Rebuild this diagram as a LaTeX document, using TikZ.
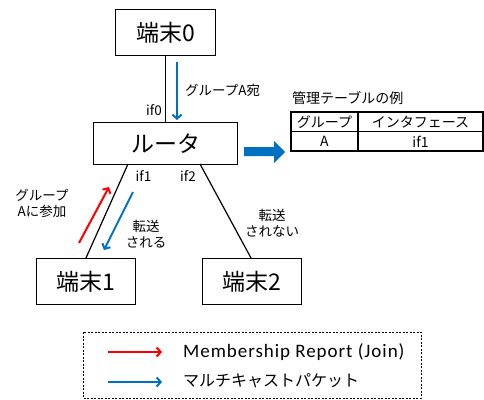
\documentclass[tikz,border=0pt]{standalone}
\usepackage{fontspec}
\setmainfont{Noto Sans CJK JP}
\newfontfamily\latinfont[LetterSpace=5.0]{Carlito}
\usetikzlibrary{arrows.meta}
\definecolor{obl}{RGB}{0,112,192}
\definecolor{ored}{RGB}{255,0,0}
\begin{document}
\begin{tikzpicture}[x=1pt,y=-1pt,
  box/.style={draw,line width=1.2pt,inner sep=0pt,anchor=north west,font=\fontsize{23}{26}\selectfont},
  lbl/.style={inner sep=0pt,font=\fontsize{13.5}{16}\selectfont},
  tbl/.style={inner sep=0pt,font=\fontsize{14}{16}\selectfont},
  link/.style={line width=1.2pt},
  tarr/.style={line width=2pt,-{Straight Barb[length=4pt,width=9pt,line width=2pt]}}]
\useasboundingbox (0,0) rectangle (484,399);
% boxes
\node[box,minimum width=100pt,minimum height=46pt] (t0) at (115,9) {端末0};
\node[box,minimum width=144pt,minimum height=42pt] (r) at (93,122) {ルータ};
\node[box,minimum width=99pt,minimum height=46pt] (t1) at (36,258) {端末1};
\node[box,minimum width=99pt,minimum height=46pt] (t2) at (202,258) {端末2};
% links
\draw[link] (t0.south) -- (t0.south |- r.north);
\coordinate (r1) at (128,164);
\coordinate (r2) at (200,164);
\coordinate (e1) at (86,258);
\coordinate (e2) at (251,258);
\draw[link] (r1) -- (e1);
\draw[link] (r2) -- (e2);
% labels
\node[lbl,anchor=east] (if0) at (162,110) {if0};
\node[lbl] (if1) at (143.5,176) {if1};
\node[lbl] (if2) at (188,176) {if2};
\node[lbl,anchor=west] (ga) at (185,90) {グループA宛};
\node[lbl,align=center] (join) at (42,203) {グループ\\Aに参加};
\node[lbl,align=center] (fw) at (146,234) {転送\\される};
\node[lbl,align=center] (nfw) at (272,223) {転送\\されない};
% arrows
\coordinate (a0s) at (177,62);
\coordinate (a0e) at (177,120);
\draw[tarr,obl] (a0s) -- (a0e);
\coordinate (ras) at (79,243);
\coordinate (rae) at (109,187);
\draw[tarr,ored] (ras) -- (rae);
\coordinate (bas) at (133,192);
\coordinate (bae) at (104,250);
\draw[tarr,obl] (bas) -- (bae);
% big arrow
\fill[obl] (244,147) -- (274,147) -- (274,141) -- (285,152) -- (274,163) -- (274,156) -- (244,156) -- cycle;
% table
\node[tbl,anchor=west] (tt) at (292,98) {管理テーブルの例};
\draw[line width=1.2pt] (291,112) rectangle (483,151);
\draw[line width=1.2pt] (291,131.5) -- (483,131.5);
\draw[line width=1.2pt] (358,112) -- (358,151);
\node[tbl] (c1) at (324.5,122) {グループ};
\node[tbl] (c2) at (420.5,122) {インタフェース};
\node[tbl] (c3) at (324.5,141.5) {A};
\node[tbl] (c4) at (420.5,141.5) {if1};
% legend
\draw[line width=0.9pt,dash pattern=on 2pt off 1.5pt] (83,332) rectangle (421,398);
\coordinate (l1s) at (108,352);
\coordinate (l1e) at (162,352);
\coordinate (l2s) at (108,382);
\coordinate (l2e) at (162,382);
\draw[tarr,ored] (l1s) -- (l1e);
\draw[tarr,obl] (l2s) -- (l2e);
\node[inner sep=0pt,anchor=west,font=\latinfont\fontsize{19}{22}\selectfont] (m1) at (183,352) {Membership Report (Join)};
\node[inner sep=0pt,anchor=west,font=\fontsize{16}{19}\selectfont] (m2) at (183,381) {マルチキャストパケット};
\end{tikzpicture}
\end{document}
